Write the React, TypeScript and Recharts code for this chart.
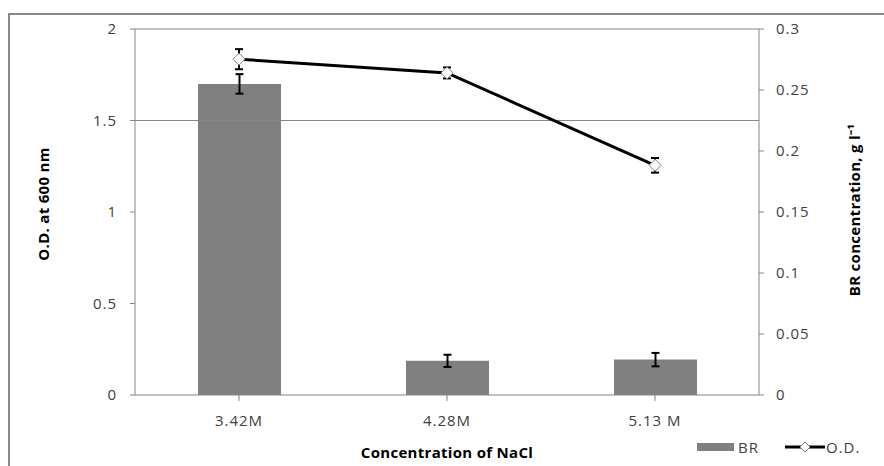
import React from 'react';
import { ComposedChart, Bar, Line, XAxis, YAxis, ErrorBar, ReferenceLine, Legend } from 'recharts';

const categories = ['3.42M', '4.28M', '5.13 M'];
const odValues = [1.835, 1.76, 1.255];
const odErrors = [0.055, 0.03, 0.04];
const brValues = [0.255, 0.028, 0.029];
const brErrors = [0.008, 0.005, 0.0055];
const leftTicks = [0, 0.5, 1, 1.5, 2];
const rightTicks = [0, 0.05, 0.1, 0.15, 0.2, 0.25, 0.3];
const gridValues = [1.5, 2];

const data = categories.map((c, i) => ({
  name: c,
  od: odValues[i],
  odErr: odErrors[i],
  br: brValues[i],
  brErr: brErrors[i],
}));

const FONT = 'Open Sans, Liberation Sans, sans-serif';
const AXIS = '#868686';
const tickStyle = { fontSize: 15, fill: '#404040', fontFamily: FONT, letterSpacing: 1 };
const titleStyle = { fontSize: 15, fontWeight: 700, fill: '#000', fontFamily: FONT, letterSpacing: 0.3 };

const Diamond = (props: any) => {
  const { cx, cy } = props;
  if (cx == null || cy == null) return null;
  const r = 6;
  return (
    <polygon
      points={`${cx},${cy - r} ${cx + r},${cy} ${cx},${cy + r} ${cx - r},${cy}`}
      fill="#ffffff"
      stroke="#7f7f7f"
      strokeWidth={1}
    />
  );
};

const renderLegend = (props: any) => {
  const { payload } = props;
  return (
    <div style={{ display: 'flex', alignItems: 'center', fontFamily: FONT, fontSize: 15, letterSpacing: 1, color: '#404040' }}>
      {payload.map((p: any, i: number) => (
        <div key={i} style={{ display: 'flex', alignItems: 'center', marginRight: i === 0 ? 26 : 0 }}>
          {p.dataKey === 'br' ? (
            <div style={{ width: 37, height: 8, background: '#808080', marginRight: 4 }} />
          ) : (
            <svg width={40} height={14} style={{ marginRight: 1 }}>
              <line x1={0} y1={7} x2={40} y2={7} stroke="#000" strokeWidth={3} />
              <polygon points="20,2 25,7 20,12 15,7" fill="#fff" stroke="#7f7f7f" strokeWidth={1} />
            </svg>
          )}
          <span>{p.value}</span>
        </div>
      ))}
    </div>
  );
};

export default function App() {
  return (
    <div style={{ position: 'absolute', left: 0, top: 0, width: 884, height: 466, overflow: 'hidden', background: '#fff' }}>
      <div
        style={{
          position: 'absolute',
          left: 8,
          top: 13,
          width: 900,
          height: 500,
          borderTop: '2px solid #8a8a8a',
          borderLeft: '2px solid #8a8a8a',
        }}
      />
      <div style={{ position: 'absolute', left: 0, top: 0 }}>
        <ComposedChart width={884} height={466} data={data} margin={{ top: 29, right: 0, bottom: 0, left: 0 }}>
          <XAxis
            dataKey="name"
            height={71}
            tick={tickStyle}
            tickLine={{ stroke: AXIS }}
            axisLine={{ stroke: AXIS }}
            tickSize={6}
            tickMargin={14}
            label={{ value: 'Concentration of NaCl', position: 'insideBottom', offset: 8, style: titleStyle }}
          />
          <YAxis
            yAxisId="left"
            orientation="left"
            width={135}
            domain={[0, 2]}
            ticks={leftTicks}
            interval={0}
            tick={tickStyle}
            tickLine={{ stroke: AXIS }}
            axisLine={{ stroke: AXIS }}
            tickSize={5}
            tickMargin={13}
            label={{ value: 'O.D. at 600 nm', angle: -90, position: 'insideLeft', offset: 44, dy: -8, style: { ...titleStyle, textAnchor: 'middle' } }}
          />
          <YAxis
            yAxisId="right"
            orientation="right"
            width={125}
            domain={[0, 0.3]}
            ticks={rightTicks}
            interval={0}
            tick={tickStyle}
            tickLine={{ stroke: AXIS }}
            axisLine={{ stroke: AXIS }}
            tickSize={5}
            tickMargin={12}
            label={{ value: 'BR concentration, g l\u207B\u00B9', angle: -90, position: 'insideRight', offset: 29, dy: -2, style: { ...titleStyle, textAnchor: 'middle' } }}
          />
          {gridValues.map((v) => (
            <ReferenceLine key={v} yAxisId="left" y={v} stroke={AXIS} strokeWidth={1} />
          ))}
          <Bar yAxisId="right" dataKey="br" name="BR" fill="#808080" barSize={83} isAnimationActive={false}>
            <ErrorBar dataKey="brErr" width={4} stroke="#000" strokeWidth={2} direction="y" />
          </Bar>
          <Line
            yAxisId="left"
            dataKey="od"
            name="O.D."
            stroke="#000"
            strokeWidth={3}
            dot={<Diamond />}
            activeDot={false}
            isAnimationActive={false}
            legendType="line"
          >
            <ErrorBar dataKey="odErr" width={4} stroke="#000" strokeWidth={2} direction="y" />
          </Line>
          <Legend
            layout="horizontal"
            verticalAlign="middle"
            align="center"
            content={renderLegend}
            wrapperStyle={{ top: 437, left: 697, width: 190 }}
          />
        </ComposedChart>
      </div>
    </div>
  );
}
